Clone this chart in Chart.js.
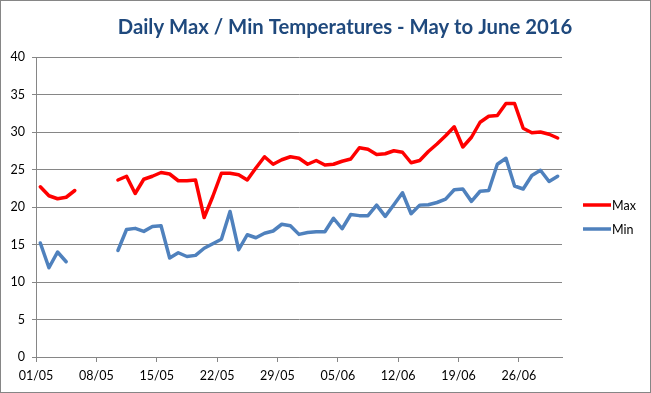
<!DOCTYPE html>
<html><head><meta charset="utf-8">
<script src="https://cdn.jsdelivr.net/npm/chart.js@4.4.0/dist/chart.umd.min.js"></script>
<style>html,body{margin:0;padding:0;background:#fff;}#wrap{width:651px;height:393px;position:relative;}</style>
</head><body><div id="wrap"><canvas id="c" width="651" height="393"></canvas></div>
<script>
const dates = ['01/05','02/05','03/05','04/05','05/05','06/05','07/05','08/05','09/05','10/05',
'11/05','12/05','13/05','14/05','15/05','16/05','17/05','18/05','19/05','20/05',
'21/05','22/05','23/05','24/05','25/05','26/05','27/05','28/05','29/05','30/05','31/05',
'01/06','02/06','03/06','04/06','05/06','06/06','07/06','08/06','09/06','10/06',
'11/06','12/06','13/06','14/06','15/06','16/06','17/06','18/06','19/06','20/06',
'21/06','22/06','23/06','24/06','25/06','26/06','27/06','28/06','29/06','30/06'];
const tickLabels = ['01/05','08/05','15/05','22/05','29/05','05/06','12/06','19/06','26/06'];
const maxTemps = [22.7,21.5,21.1,21.3,22.2,null,null,null,null,23.6,
24.1,21.8,23.7,24.1,24.6,24.4,23.5,23.5,23.6,18.6,
21.4,24.5,24.5,24.3,23.6,25.2,26.7,25.7,26.3,26.7,26.5,
25.7,26.2,25.6,25.7,26.1,26.4,27.9,27.7,27.0,27.1,
27.5,27.3,25.9,26.2,27.4,28.4,29.5,30.7,28.0,29.3,
31.3,32.1,32.2,33.8,33.8,30.5,29.9,30.0,29.7,29.2];
const minTemps = [15.2,11.9,14.0,12.7,null,null,null,null,null,14.2,
17.0,17.15,16.75,17.4,17.5,13.2,13.9,13.4,13.55,14.5,
15.1,15.7,19.4,14.3,16.3,15.9,16.5,16.8,17.7,17.5,16.35,
16.6,16.7,16.7,18.5,17.1,19.0,18.85,18.85,20.25,18.75,
20.3,21.9,19.1,20.25,20.3,20.6,21.05,22.3,22.4,20.75,
22.1,22.2,25.7,26.5,22.8,22.4,24.2,24.9,23.4,24.1];
const seriesNames = ['Max','Min'];
const seriesColors = ['#FF0000','#4F81BD'];
const chartTitle = 'Daily Max / Min Temperatures - May to June 2016';

const toPts = arr => arr.map((v,i)=>({x:i+0.5,y:v}));
const gridCol = '#868686';
const FONT = 'Lato, "Open Sans", sans-serif';

const framePlugin = {
  id:'frame',
  beforeDraw(chart){
    const c = chart.ctx;
    c.save(); c.fillStyle='#fff'; c.fillRect(0,0,chart.width,chart.height); c.restore();
  },
  afterDraw(chart){
    const c = chart.ctx;
    c.save();
    c.strokeStyle = gridCol; c.lineWidth = 1;
    c.strokeRect(0.5,0.5,chart.width-1,chart.height-1);
    // title
    c.fillStyle='#1F497D'; c.font='bold 20.3px '+FONT; c.textAlign='center'; c.textBaseline='alphabetic';
    c.fillText(chartTitle,345,34);
    // legend
    const ys = [205,229];
    chart.data.datasets.forEach((ds,i)=>{
      c.strokeStyle = ds.borderColor; c.lineWidth = 3.5; c.lineCap='butt';
      c.beginPath(); c.moveTo(583,ys[i]); c.lineTo(611,ys[i]); c.stroke();
      c.fillStyle='#000'; c.font='12.5px '+FONT; c.textBaseline='middle'; c.textAlign='left';
      c.fillText(ds.label,612,ys[i]+1);
    });
    c.restore();
  }
};

new Chart(document.getElementById('c'),{
  type:'line',
  data:{datasets:[
    {label:seriesNames[0],data:toPts(maxTemps),borderColor:seriesColors[0],backgroundColor:seriesColors[0],borderWidth:3.5,pointRadius:0,tension:0,spanGaps:false,borderJoinStyle:'round',borderCapStyle:'round'},
    {label:seriesNames[1],data:toPts(minTemps),borderColor:seriesColors[1],backgroundColor:seriesColors[1],borderWidth:3.5,pointRadius:0,tension:0,spanGaps:false,borderJoinStyle:'round',borderCapStyle:'round'}
  ]},
  options:{
    responsive:false,animation:false,
    layout:{padding:{left:0,right:89,top:57,bottom:0}},
    plugins:{legend:{display:false},tooltip:{enabled:false},title:{display:false}},
    scales:{
      x:{type:'linear',min:0,max:dates.length,
        afterBuildTicks(s){ s.ticks = tickLabels.map(t=>({value:dates.indexOf(t)})); },
        afterFit(s){ s.height = 36; },
        ticks:{autoSkip:false,maxRotation:0,color:'#000',font:{family:FONT,size:12.5},padding:6,
          callback:(v)=>dates[v]},
        grid:{drawOnChartArea:false,drawTicks:true,tickLength:5,color:gridCol},
        border:{display:true,color:gridCol}
      },
      y:{min:0,max:40,
        afterFit(s){ s.width = 36; },
        ticks:{stepSize:5,color:'#000',font:{family:FONT,size:12.5},padding:7},
        grid:{color:gridCol,tickLength:4},
        border:{display:true,color:gridCol}
      }
    }
  },
  plugins:[framePlugin]
});
</script></body></html>
